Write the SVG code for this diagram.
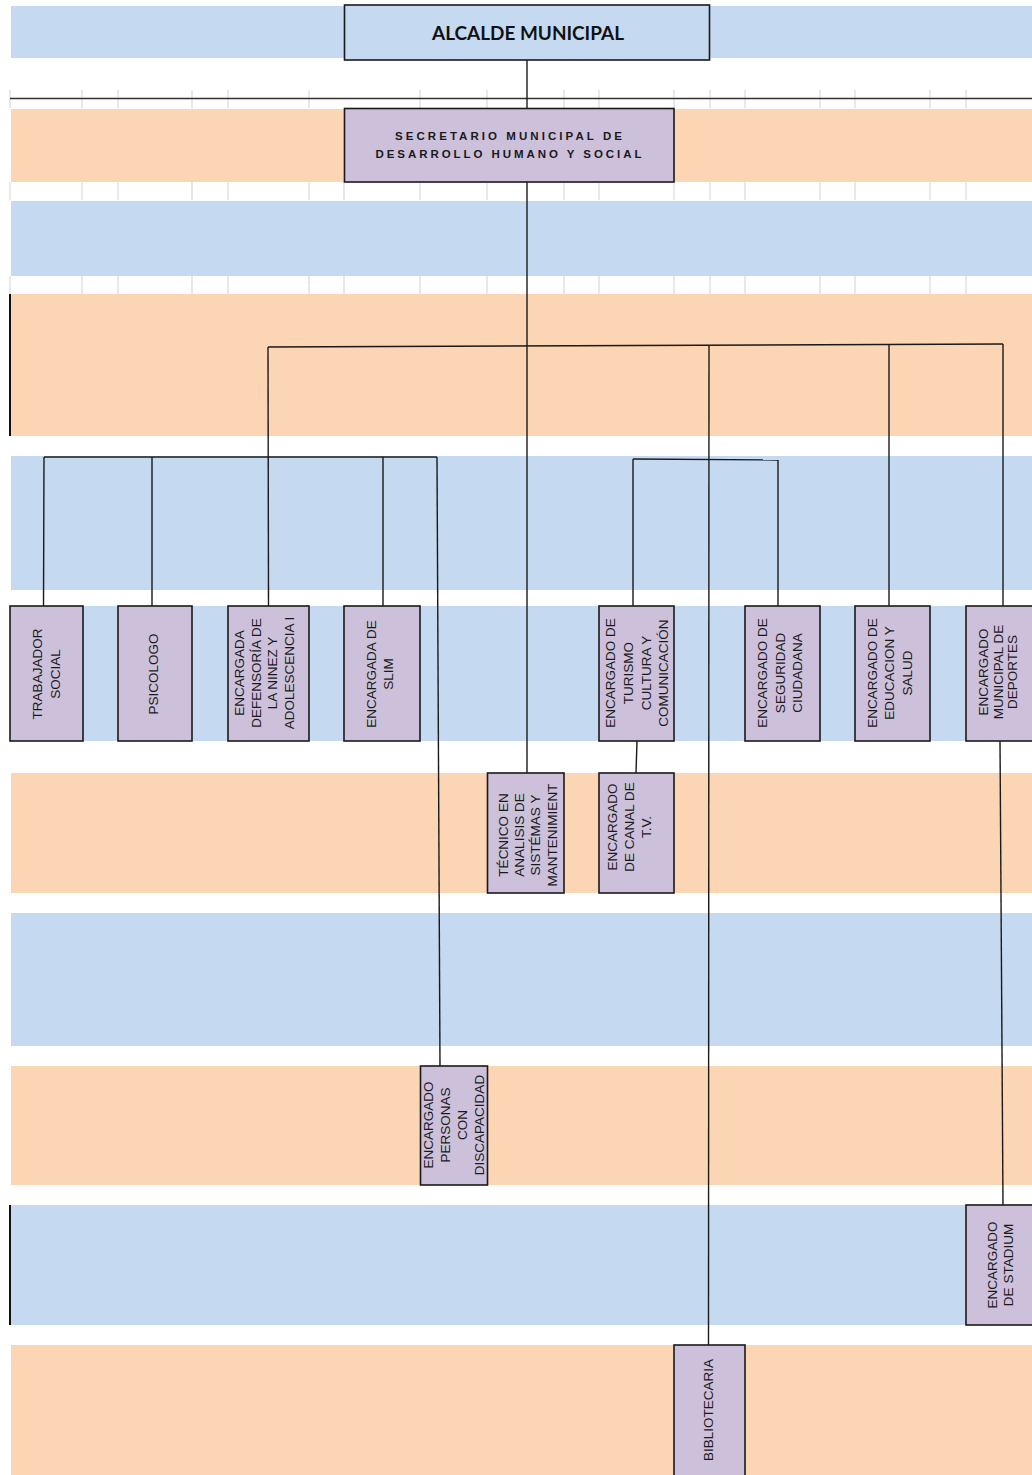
<svg xmlns="http://www.w3.org/2000/svg" width="1032" height="1475" viewBox="0 0 1032 1475">
<style>
.bb{fill:#C5D9F1}
.bo{fill:#FCD5B4}
.grid{stroke:#D9D9D9;stroke-width:1.2}
.box{fill:#CCC0DA;stroke:#1a1a1a;stroke-width:1.6}
.boxb{fill:#C5D9F1;stroke:#1a1a1a;stroke-width:1.6}
.ln{stroke:#1a1a1a;stroke-width:1.4;fill:none}
.t{font-family:"Liberation Sans",Arial,sans-serif;font-size:13.5px;fill:#1a1a1a;text-anchor:middle;dominant-baseline:central}
.h{font-family:"Liberation Sans",Arial,sans-serif;font-weight:bold;font-size:11.5px;fill:#1a1a1a;text-anchor:middle}
.a{font-family:Lato,"Liberation Sans",sans-serif;font-weight:bold;font-size:19px;fill:#111;text-anchor:middle}
</style>
<rect width="1032" height="1475" fill="#fff"/>
<g id="bands">
<rect class="bb" x="11" y="6" width="1021" height="52"/>
<rect class="bo" x="11" y="109" width="1021" height="73"/>
<rect class="bb" x="11" y="201" width="1021" height="75"/>
<rect class="bo" x="11" y="294" width="1021" height="142"/>
<rect class="bb" x="11" y="456" width="1021" height="134"/>
<rect class="bb" x="11" y="606" width="1021" height="135"/>
<rect class="bo" x="11" y="773" width="1021" height="120"/>
<rect class="bb" x="11" y="913" width="1021" height="133"/>
<rect class="bo" x="11" y="1066" width="1021" height="119"/>
<rect class="bb" x="11" y="1205" width="1021" height="120"/>
<rect class="bo" x="11" y="1345" width="1021" height="130"/>
</g>
<g id="gridlines">
<path class="grid" d="M10 90V108M82 90V108M118 90V108M192 90V108M228 90V108M309 90V108M420 90V108M487 90V108M564 90V108M599 90V108M674 90V108M710 90V108M745 90V108M820 90V108M855 90V108M930 90V108M966 90V108"/>
<path class="grid" d="M10 182V200M82 182V200M118 182V200M192 182V200M228 182V200M309 182V200M344 182V200M420 182V200M487 182V200M564 182V200M599 182V200M674 182V200M710 182V200M745 182V200M820 182V200M855 182V200M930 182V200M966 182V200"/>
<path class="grid" d="M10 276V294M82 276V294M118 276V294M192 276V294M228 276V294M309 276V294M344 276V294M420 276V294M487 276V294M564 276V294M599 276V294M674 276V294M710 276V294M745 276V294M820 276V294M855 276V294M930 276V294M966 276V294"/>
<path d="M10 98.5H1032" stroke="#333" stroke-width="1.6"/>
<path d="M10 294V436M10 1205V1325" stroke="#111" stroke-width="2"/>
</g>
<g id="connectors">
<path class="ln" d="M527 60V108"/>
<path class="ln" d="M527 182V773"/>
<path class="ln" d="M268 347L1003 344"/>
<path class="ln" d="M268 347L268.5 606"/>
<path class="ln" d="M709 346L708.5 1345"/>
<path class="ln" d="M889 344V606"/>
<path class="ln" d="M1003 344V606"/>
<path class="ln" d="M44 457H437"/>
<path class="ln" d="M44 457L43.5 606M152 457V606M383 457V606"/>
<path class="ln" d="M437 457L440 1066"/>
<path class="ln" d="M633 459L778 460"/>
<path class="ln" d="M633 459V606M778 460V606"/>
<path class="ln" d="M637 741L636 773"/>
<path class="ln" d="M1000 741L1003 1205"/>
</g>
<g id="alcalde">
<rect class="boxb" x="344.5" y="5" width="365" height="55"/>
<text class="a" x="528" y="40" textLength="192" lengthAdjust="spacingAndGlyphs">ALCALDE MUNICIPAL</text>
</g>
<g id="secretario">
<rect class="box" x="344.5" y="108.5" width="329.5" height="73.5"/>
<text class="h" x="508.5" y="140" textLength="227" lengthAdjust="spacing">SECRETARIO MUNICIPAL DE</text>
<text class="h" x="508.5" y="157.5" textLength="266" lengthAdjust="spacing">DESARROLLO HUMANO Y SOCIAL</text>
</g>
<g id="trabajador">
<rect class="box" x="10" y="606" width="73" height="135"/>
<text class="t" transform="translate(37.5 674) rotate(-90)">TRABAJADOR</text>
<text class="t" transform="translate(55 674) rotate(-90)">SOCIAL</text>
</g>
<g id="psicologo">
<rect class="box" x="118" y="606" width="74" height="135"/>
<text class="t" transform="translate(153 674) rotate(-90)">PSICOLOGO</text>
</g>
<g id="defensoria">
<rect class="box" x="228" y="606" width="81" height="135"/>
<text class="t" transform="translate(239.5 673) rotate(-90)">ENCARGADA</text>
<text class="t" transform="translate(256 673) rotate(-90)">DEFENSORÍA DE</text>
<text class="t" transform="translate(272.5 673) rotate(-90)">LA NINEZ Y</text>
<text class="t" transform="translate(289 673) rotate(-90)">ADOLESCENCIA I</text>
</g>
<g id="slim">
<rect class="box" x="344" y="606" width="76" height="135"/>
<text class="t" transform="translate(371 674) rotate(-90)">ENCARGADA DE</text>
<text class="t" transform="translate(388 674) rotate(-90)">SLIM</text>
</g>
<g id="turismo">
<rect class="box" x="599" y="606" width="75" height="135"/>
<text class="t" transform="translate(610 673) rotate(-90)">ENCARGADO DE</text>
<text class="t" transform="translate(628 673) rotate(-90)">TURISMO</text>
<text class="t" transform="translate(646 673) rotate(-90)">CULTURA Y</text>
<text class="t" transform="translate(663 673) rotate(-90)">COMUNICACIÓN</text>
</g>
<g id="seguridad">
<rect class="box" x="745" y="606" width="75" height="135"/>
<text class="t" transform="translate(762 673) rotate(-90)">ENCARGADO DE</text>
<text class="t" transform="translate(780 673) rotate(-90)">SEGURIDAD</text>
<text class="t" transform="translate(797 673) rotate(-90)">CIUDADANA</text>
</g>
<g id="educacion">
<rect class="box" x="855" y="606" width="75" height="135"/>
<text class="t" transform="translate(872 673) rotate(-90)">ENCARGADO DE</text>
<text class="t" transform="translate(889 673) rotate(-90)">EDUCACION Y</text>
<text class="t" transform="translate(907 673) rotate(-90)">SALUD</text>
</g>
<g id="deportes">
<rect class="box" x="966" y="606" width="75" height="135"/>
<text class="t" transform="translate(983.5 672) rotate(-90)">ENCARGADO</text>
<text class="t" transform="translate(998 672) rotate(-90)">MUNICIPAL DE</text>
<text class="t" transform="translate(1012.5 672) rotate(-90)">DEPORTES</text>
</g>
<g id="tecnico">
<rect class="box" x="487.5" y="773" width="76.5" height="120"/>
<text class="t" transform="translate(503 835) rotate(-90)">TÉCNICO EN</text>
<text class="t" transform="translate(519 835) rotate(-90)">ANALISIS DE</text>
<text class="t" transform="translate(535 835) rotate(-90)">SISTÉMAS Y</text>
<text class="t" transform="translate(552.5 835) rotate(-90)">MANTENIMIENT</text>
</g>
<g id="canal">
<rect class="box" x="599" y="773" width="75" height="120"/>
<text class="t" transform="translate(612 827) rotate(-90)">ENCARGADO</text>
<text class="t" transform="translate(629 827) rotate(-90)">DE CANAL DE</text>
<text class="t" transform="translate(646 827) rotate(-90)">T.V.</text>
</g>
<g id="discapacidad">
<rect class="box" x="420.5" y="1066" width="67" height="119"/>
<text class="t" transform="translate(428 1125) rotate(-90)">ENCARGADO</text>
<text class="t" transform="translate(445 1125) rotate(-90)">PERSONAS</text>
<text class="t" transform="translate(462 1125) rotate(-90)">CON</text>
<text class="t" transform="translate(479.5 1125) rotate(-90)">DISCAPACIDAD</text>
</g>
<g id="stadium">
<rect class="box" x="966" y="1205" width="75" height="120"/>
<text class="t" transform="translate(992 1265) rotate(-90)">ENCARGADO</text>
<text class="t" transform="translate(1008 1265) rotate(-90)">DE STADIUM</text>
</g>
<g id="bibliotecaria">
<rect class="box" x="674" y="1345" width="71" height="135"/>
<text class="t" transform="translate(708 1410) rotate(-90)">BIBLIOTECARIA</text>
</g>
</svg>
